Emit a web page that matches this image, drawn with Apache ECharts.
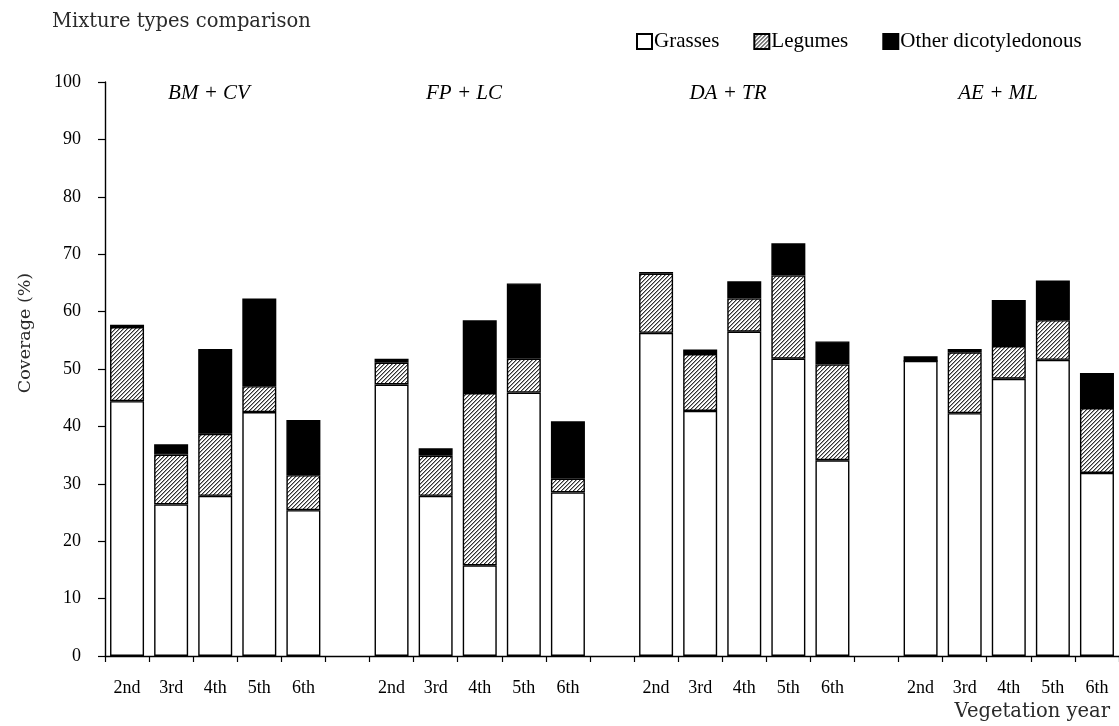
<!DOCTYPE html>
<html>
<head>
<meta charset="utf-8">
<script src="https://cdn.jsdelivr.net/npm/echarts@6/dist/echarts.min.js"></script>
<style>
html,body{margin:0;padding:0;background:#fff;}
#chart{width:1119px;height:726px;}
</style>
</head>
<body>
<div id="chart"></div>
<script>
// ---- data ----
const years = ['2nd', '3rd', '4th', '5th', '6th'];
const mixtures = ['BM + CV', 'FP + LC', 'DA + TR', 'AE + ML'];
const seriesNames = ['Grasses', 'Legumes', 'Other dicotyledonous'];
// values per mixture, in order of years
const grasses = [
  44.4, 26.4, 27.9, 42.5, 25.4,
  47.3, 27.9, 15.8, 45.9, 28.5,
  56.3, 42.7, 56.5, 51.8, 34.1,
  51.4, 42.3, 48.3, 51.6, 31.9
];
const legumes = [
  12.9, 8.7, 10.8, 4.5, 6.1,
  3.8, 7.0, 30.0, 5.9, 2.4,
  10.3, 9.9, 5.8, 14.5, 16.7,
  0.0, 10.6, 5.7, 6.9, 11.3
];
const other = [
  0.4, 1.8, 14.8, 15.3, 9.6,
  0.7, 1.3, 12.7, 13.1, 10.0,
  0.3, 0.8, 3.0, 5.6, 4.0,
  0.8, 0.6, 8.0, 6.9, 6.1
];
const yTicks = [0, 10, 20, 30, 40, 50, 60, 70, 80, 90, 100];
const titleText = 'Mixture types comparison';
const yName = 'Coverage (%)';
const xName = 'Vegetation year';

// ---- build categories with a gap slot between groups ----
const categories = [];
const withGaps = arr => {
  const out = [];
  mixtures.forEach((m, gi) => {
    years.forEach((y, yi) => out.push(arr[gi * years.length + yi]));
    if (gi < mixtures.length - 1) out.push('-');
  });
  return out;
};
mixtures.forEach((m, gi) => {
  years.forEach(y => categories.push(y));
  if (gi < mixtures.length - 1) categories.push('');
});

// ---- hatch pattern ----
const pc = document.createElement('canvas');
pc.width = 4; pc.height = 4;
const pctx = pc.getContext('2d');
const img = pctx.createImageData(4, 4);
for (let y = 0; y < 4; y++) {
  for (let x = 0; x < 4; x++) {
    const i = (y * 4 + x) * 4;
    const k = (x + y) % 4;
    let v = 255;
    if (k === 3) v = 50;
    else if (k === 0) v = 160;
    img.data[i] = v; img.data[i + 1] = v; img.data[i + 2] = v; img.data[i + 3] = 255;
  }
}
pctx.putImageData(img, 0, 0);
const hatch = { image: pc, repeat: 'repeat' };

const serifT = 'Liberation Serif';
const serifP = 'DejaVu Serif';

const chart = echarts.init(document.getElementById('chart'), null, { renderer: 'canvas' });

const fills = ['#ffffff', hatch, '#000000'];
const dataSets = [grasses, legumes, other];

const groupLabelX = [209, 464, 728, 998];

chart.setOption({
  animation: false,
  backgroundColor: '#ffffff',
  grid: { left: 105, right: -4, top: 82, bottom: 70, containLabel: false },
  legend: {
    data: seriesNames,
    left: 631, top: 26,
    itemWidth: 15, itemHeight: 15, itemGap: 34,
    icon: 'rect',
    textStyle: { fontFamily: serifT, fontSize: 21, color: '#000', padding: [0, 0, 0, -3] }
  },
  xAxis: {
    type: 'category',
    data: categories,
    axisLine: { lineStyle: { color: '#000', width: 1.4 } },
    axisTick: { show: true, length: 6, lineStyle: { color: '#000', width: 1.2 } },
    axisLabel: { interval: 0, margin: 23, color: '#000', fontFamily: serifT, fontSize: 18 },
    splitLine: { show: false }
  },
  yAxis: {
    type: 'value',
    min: yTicks[0], max: yTicks[yTicks.length - 1], interval: 10,
    axisLine: { show: true, lineStyle: { color: '#000', width: 1.4 } },
    axisTick: { show: true, length: 7, lineStyle: { color: '#000', width: 1.2 } },
    axisLabel: { margin: 24, color: '#000', fontFamily: serifT, fontSize: 18 },
    splitLine: { show: false }
  },
  graphic: [
    { type: 'text', x: 52, y: 22,
      style: { text: titleText, font: '19.5px "' + serifP + '"', fill: '#2a2a2a', verticalAlign: 'middle' } },
    { type: 'text', x: 25, y: 333, rotation: Math.PI / 2,
      style: { text: yName, font: '17.5px "' + serifP + '"', fill: '#2a2a2a', align: 'center', verticalAlign: 'middle' } },
    { type: 'text', x: 1110, y: 712,
      style: { text: xName, font: '19.5px "' + serifP + '"', fill: '#2a2a2a', align: 'right', verticalAlign: 'middle' } }
  ].concat(mixtures.map((m, i) => ({
    type: 'text', x: groupLabelX[i], y: 93,
    style: { text: m, font: 'italic 21px "' + serifT + '"', fill: '#000', align: 'center', verticalAlign: 'middle' }
  }))),
  series: seriesNames.map((name, si) => ({
    name: name,
    type: 'bar',
    stack: 'total',
    barWidth: 34,
    data: withGaps(dataSets[si]),
    itemStyle: { color: fills[si], borderColor: '#000', borderWidth: 1.4 },
    emphasis: { disabled: true }
  }))
});
</script>
</body>
</html>
